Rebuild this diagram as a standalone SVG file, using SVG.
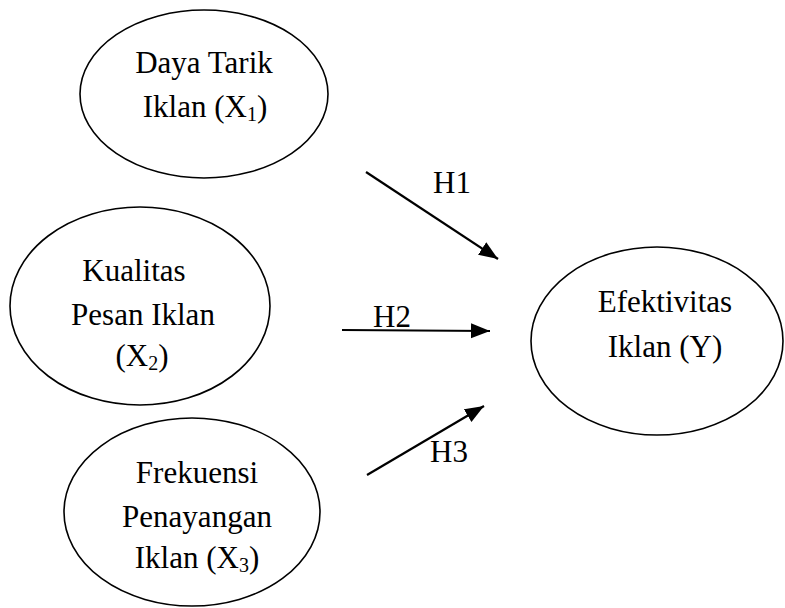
<svg xmlns="http://www.w3.org/2000/svg" width="785" height="608" viewBox="0 0 785 608">
  <defs>
    <style>
      .node { fill: #fff; stroke: #000; stroke-width: 1.6; }
      .lbl { font-family: "Liberation Serif", "Times New Roman", serif; font-size: 31px; fill: #000; text-anchor: middle; }
      .sub { font-size: 20px; }
      .edge { stroke: #000; stroke-width: 2.2; fill: none; marker-end: url(#arrow); }
      .elbl { font-family: "Liberation Serif", "Times New Roman", serif; font-size: 31px; fill: #000; }
    </style>
    <marker id="arrow" markerUnits="userSpaceOnUse" markerWidth="22" markerHeight="18" refX="19" refY="7.5" orient="auto">
      <path d="M0,0 L19,7.5 L0,15 Z" fill="#000"/>
    </marker>
  </defs>
  <rect width="785" height="608" fill="#fff"/>
  <g id="x1">
    <ellipse class="node" cx="204" cy="94" rx="124" ry="84"/>
    <text class="lbl" x="204" y="73">Daya Tarik</text>
    <text class="lbl" x="205" y="117">Iklan (X<tspan class="sub" dy="4">1</tspan><tspan dy="-4">)</tspan></text>
  </g>
  <g id="x2">
    <ellipse class="node" cx="140" cy="306" rx="130" ry="99"/>
    <text class="lbl" x="134" y="281">Kualitas</text>
    <text class="lbl" x="143" y="325">Pesan Iklan</text>
    <text class="lbl" x="142" y="366">(X<tspan class="sub" dy="4">2</tspan><tspan dy="-4">)</tspan></text>
  </g>
  <g id="x3">
    <ellipse class="node" cx="192" cy="512" rx="128" ry="94"/>
    <text class="lbl" x="197" y="483">Frekuensi</text>
    <text class="lbl" x="197" y="527">Penayangan</text>
    <text class="lbl" x="197" y="568">Iklan (X<tspan class="sub" dy="4">3</tspan><tspan dy="-4">)</tspan></text>
  </g>
  <g id="y">
    <ellipse class="node" cx="657" cy="341" rx="126" ry="94"/>
    <text class="lbl" x="665" y="312">Efektivitas</text>
    <text class="lbl" x="665" y="357">Iklan (Y)</text>
  </g>
  <g id="connectors">
    <line class="edge" x1="366" y1="172" x2="498" y2="259"/>
    <line class="edge" x1="342" y1="330" x2="490" y2="331"/>
    <line class="edge" x1="367" y1="475" x2="484" y2="406"/>
    <text class="elbl" x="433" y="193">H1</text>
    <text class="elbl" x="373" y="327">H2</text>
    <text class="elbl" x="430" y="462">H3</text>
  </g>
</svg>
